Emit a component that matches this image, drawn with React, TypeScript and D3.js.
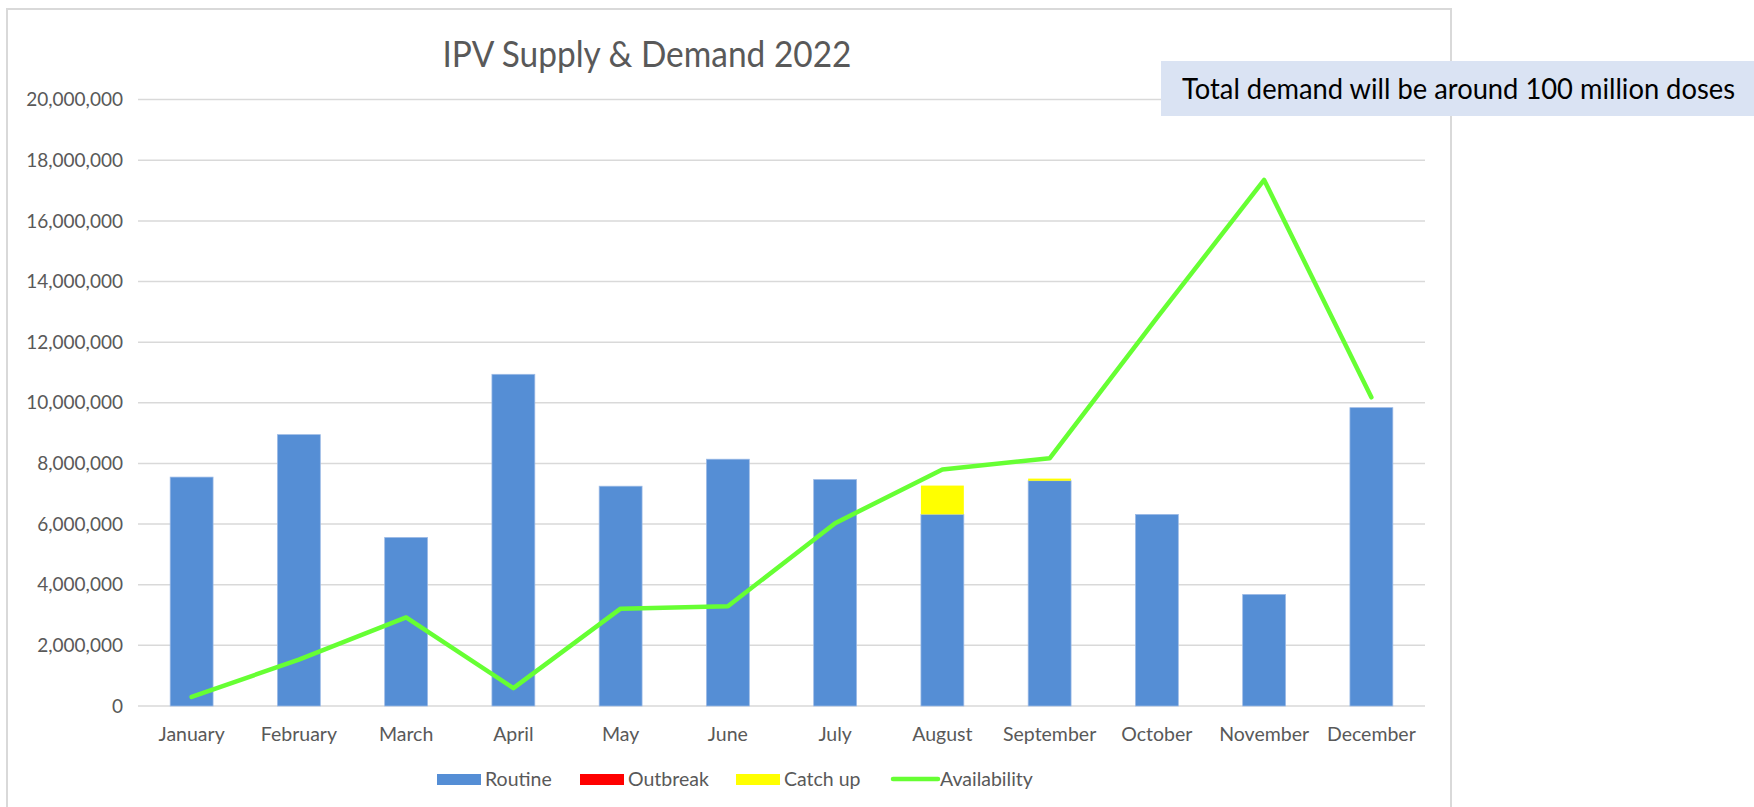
import React from "react";
import * as d3 from "d3";

const months = ["January","February","March","April","May","June","July","August","September","October","November","December"];
const routine = [7550000, 8950000, 5560000, 10940000, 7250000, 8140000, 7470000, 6320000, 7430000, 6320000, 3680000, 9840000];
const outbreak = [0,0,0,0,0,0,0,0,0,0,0,0];
const catchUp = [0,0,0,0,0,0,0,950000,70000,0,0,0];
const availability = [300000, 1530000, 2920000, 590000, 3210000, 3290000, 6030000, 7800000, 8170000, 12800000, 17350000, 10180000];
const yTicks = [0,2000000,4000000,6000000,8000000,10000000,12000000,14000000,16000000,18000000,20000000];
const title = "IPV Supply & Demand 2022";
const note = "Total demand will be around 100 million doses";
const seriesNames = ["Routine","Outbreak","Catch up","Availability"];
const seriesColors = ["#558ED5","#FF0000","#FFFF00","#66FF33"];

const W = 1754, H = 807;
const FONT = "Lato, 'Open Sans', sans-serif";
const TXT = "#595959";

export default function App() {
  const x = d3.scaleBand<string>().domain(months).range([138, 1425]).paddingInner(0.6).paddingOuter(0.3);
  const y = d3.scaleLinear().domain([0, 20000000]).range([706, 99.6]);
  const rows = months.map((m, i) => ({ m, Routine: routine[i], Outbreak: outbreak[i], "Catch up": catchUp[i] }));
  const stack = d3.stack<any>().keys(["Routine","Outbreak","Catch up"])(rows);
  const fmt = d3.format(",");
  const line = d3.line<number>()
    .x((_, i) => (x(months[i]) as number) + x.bandwidth() / 2)
    .y((d) => y(d));

  const legendItems = [
    { name: seriesNames[0], color: seriesColors[0], sx: 437, tx: 485, type: "rect" },
    { name: seriesNames[1], color: seriesColors[1], sx: 580, tx: 628, type: "rect" },
    { name: seriesNames[2], color: seriesColors[2], sx: 736, tx: 784, type: "rect" },
    { name: seriesNames[3], color: seriesColors[3], sx: 891, tx: 940, type: "line" },
  ];
  const ly = 779;

  return (
    <div style={{ position: "fixed", left: 0, top: 0 }}>
      <svg width={W} height={H} style={{ display: "block", background: "#fff" }} fontFamily={FONT}>
        <rect x={0} y={0} width={W} height={H} fill="#fff" />
        {/* chart area border */}
        <path d={`M7,${H + 5} V9 H1451 V${H + 5}`} fill="none" stroke="#D9D9D9" strokeWidth={2} />
        {/* title */}
        <text x={647} y={67} textAnchor="middle" fill={TXT} fontSize={37} textLength={409} lengthAdjust="spacingAndGlyphs">{title}</text>
        {/* gridlines and y labels */}
        {yTicks.map((t) => (
          <g key={t}>
            <line x1={138} x2={1425} y1={y(t)} y2={y(t)} stroke="#D9D9D9" strokeWidth={1.5} />
            <text x={123} y={y(t)} dy="0.35em" textAnchor="end" fill={TXT} fontSize={19}>{fmt(t)}</text>
          </g>
        ))}
        {/* bars */}
        {stack.map((s, si) => (
          <g key={s.key} fill={seriesColors[si]}>
            {s.map((d, i) => {
              const h = y(d[0]) - y(d[1]);
              if (h <= 0) return null;
              return <rect key={i} x={x(months[i])} y={y(d[1])} width={x.bandwidth()} height={h} stroke={si === 0 ? "#9DBBE6" : "none"} strokeWidth={0.75} />;
            })}
          </g>
        ))}
        {/* availability line */}
        <path d={line(availability) || ""} fill="none" stroke={seriesColors[3]} strokeWidth={4.5} strokeLinejoin="round" strokeLinecap="round" />
        {/* x labels */}
        {months.map((m) => (
          <text key={m} x={(x(m) as number) + x.bandwidth() / 2} y={741} textAnchor="middle" fill={TXT} fontSize={19.5}>{m}</text>
        ))}
        {/* legend */}
        {legendItems.map((it) => (
          <g key={it.name}>
            {it.type === "rect" ? (
              <rect x={it.sx} y={ly - 5} width={44} height={11} fill={it.color} />
            ) : (
              <line x1={it.sx + 2} x2={it.sx + 47} y1={ly} y2={ly} stroke={it.color} strokeWidth={4.5} strokeLinecap="round" />
            )}
            <text x={it.tx} y={ly} dy="0.35em" fill={TXT} fontSize={19.5}>{it.name}</text>
          </g>
        ))}
        {/* annotation box */}
        <rect x={1161} y={61} width={W - 1161} height={55} fill="#DAE3F3" />
        <text x={1182} y={89} dy="0.35em" fill="#000" fontSize={28} textLength={553} lengthAdjust="spacingAndGlyphs">{note}</text>
      </svg>
    </div>
  );
}
